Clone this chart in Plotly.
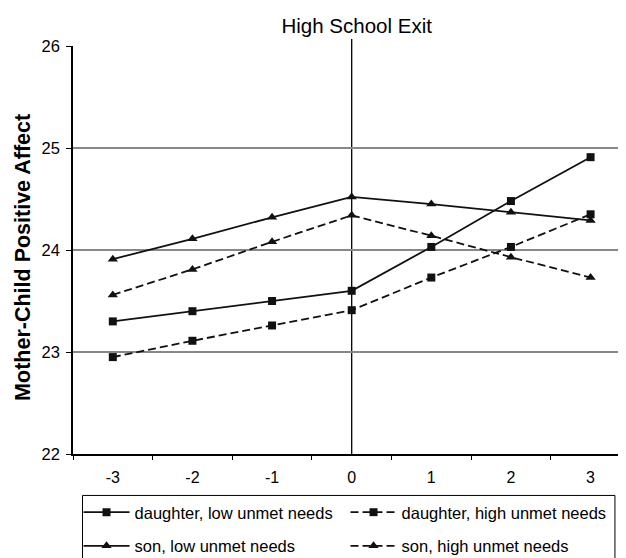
import plotly.graph_objects as go

# ---- data ----
periods = [-3, -2, -1, 0, 1, 2, 3]
period_labels = ["-3", "-2", "-1", "0", "1", "2", "3"]
daughter_low = [23.30, 23.40, 23.50, 23.60, 24.03, 24.48, 24.91]
daughter_high = [22.95, 23.11, 23.26, 23.41, 23.73, 24.03, 24.35]
son_low = [23.91, 24.11, 24.32, 24.52, 24.45, 24.37, 24.29]
son_high = [23.56, 23.81, 24.08, 24.34, 24.14, 23.93, 23.73]
y_ticks = [22, 23, 24, 25, 26]
exit_period = 0

FONT = "Arial, Liberation Sans, Helvetica, sans-serif"

series = [
    ("daughter, low unmet needs", daughter_low, "solid", "square", 8, "legend"),
    ("daughter, high unmet needs", daughter_high, "8px,4px", "square", 8, "legend"),
    ("son, low unmet needs", son_low, "solid", "triangle-up", 9, "legend2"),
    ("son, high unmet needs", son_high, "8px,4px", "triangle-up", 9, "legend2"),
]

fig = go.Figure()
for name, vals, dash, sym, size, leg in series:
    fig.add_trace(go.Scatter(
        x=periods, y=vals, name=name, mode="lines+markers",
        line=dict(color="#111111", width=1.8, dash=dash),
        marker=dict(symbol=sym, size=size, color="#111111"),
        legend=leg,
    ))

fig.add_shape(type="line", xref="x", yref="paper",
              x0=exit_period, x1=exit_period, y0=0, y1=1.017,
              line=dict(color="black", width=1.3), layer="below")

# legend frame
fig.add_shape(type="rect", xref="paper", yref="paper",
              x0=0.0172, x1=0.980, y0=-0.1016, y1=-0.30,
              line=dict(color="black", width=1), fillcolor="rgba(0,0,0,0)")

# y-axis title (as annotation, to match its slightly low placement)
fig.add_annotation(text="<b>Mother-Child Positive Affect</b>", textangle=-90,
                   xref="paper", yref="paper", x=-0.0894, y=0.482,
                   xanchor="center", yanchor="middle", showarrow=False,
                   font=dict(family=FONT, size=21.5, color="black"))

leg_common = dict(orientation="h", xanchor="left", yanchor="middle",
                  entrywidth=206, entrywidthmode="pixels", itemwidth=46,
                  font=dict(family=FONT, size=16.5, color="black"),
                  bgcolor="rgba(0,0,0,0)", borderwidth=0)

# the page body adds an 8px margin, so the figure is 8px smaller than the window
fig.update_layout(
    width=618, height=550,
    margin=dict(l=64.5, r=0, t=38, b=103.5, autoexpand=False),
    paper_bgcolor="white", plot_bgcolor="white",
    font=dict(family=FONT, color="black"),
    title=dict(text="High School Exit", x=0.513, xanchor="center", xref="paper",
               y=0.967, yanchor="middle", yref="container",
               font=dict(family=FONT, size=20.5, color="black")),
    xaxis=dict(range=[-3.5, 3.445], tickvals=periods, ticktext=period_labels,
               ticks="outside", ticklen=8, tickcolor="rgba(0,0,0,0)",
               showgrid=False, zeroline=False,
               showline=True, linecolor="black", linewidth=2,
               tickfont=dict(family=FONT, size=16, color="black"),
               minor=dict(tick0=-3.5, dtick=1, ticks="outside", ticklen=4,
                          tickwidth=1.3, tickcolor="black", showgrid=False)),
    yaxis=dict(range=[22, 26], tickvals=y_ticks,
               ticks="outside", ticklen=5, tickwidth=1.3, tickcolor="black",
               ticklabelstandoff=3,
               showgrid=True, gridcolor="#888888", gridwidth=1.8,
               zeroline=False, showline=True, linecolor="black", linewidth=1.6,
               tickfont=dict(family=FONT, size=16.5, color="black")),
    legend=dict(x=0.01, y=-0.1432, **leg_common),
    legend2=dict(x=0.01, y=-0.2257, **leg_common),
)

fig.write_html("out.html")
